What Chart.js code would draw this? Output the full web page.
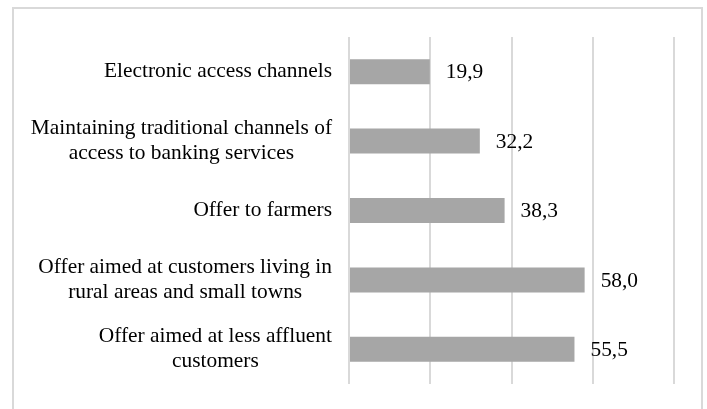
<!DOCTYPE html>
<html>
<head>
<meta charset="utf-8">
<title>Bank offer</title>
<script src="https://cdn.jsdelivr.net/npm/chart.js@4.4.1/dist/chart.umd.min.js"></script>
<style>
  html, body { margin: 0; padding: 0; background: #fff; }
  #wrap { position: relative; width: 707px; height: 409px; }
</style>
</head>
<body>
<div id="wrap"><canvas id="chart" width="707" height="409"></canvas></div>
<script>
const categories = [
  ["Electronic access channels"],
  ["Maintaining traditional channels of", "access to banking services"],
  ["Offer to farmers"],
  ["Offer aimed at customers living in", "rural areas and small towns"],
  ["Offer aimed at less affluent", "customers"]
];
const values = [19.9, 32.2, 38.3, 58.0, 55.5];
const axisTicks = [0, 20, 40, 60, 80];

const FONT = '21.4px "Liberation Serif", "Times New Roman", serif';

// frame around the whole chart
const framePlugin = {
  id: "frame",
  beforeDraw(chart) {
    const ctx = chart.ctx;
    ctx.save();
    ctx.fillStyle = "#fff";
    ctx.fillRect(0, 0, chart.width, chart.height);
    ctx.strokeStyle = "#d9d9d9";
    ctx.lineWidth = 2;
    ctx.strokeRect(13, 8, 689, 420);
    ctx.restore();
  }
};

// category names (block right aligned, lines centred) and value labels
const labelsPlugin = {
  id: "labels",
  afterDatasetsDraw(chart) {
    const ctx = chart.ctx;
    const yScale = chart.scales.y;
    const left = chart.chartArea.left;
    const lineH = 25;
    ctx.save();
    ctx.font = FONT;
    ctx.fillStyle = "#000";
    ctx.textBaseline = "middle";
    ctx.textAlign = "center";
    categories.forEach((lines, i) => {
      const yc = yScale.getPixelForValue(i);
      const widest = Math.max(...lines.map(l => ctx.measureText(l).width));
      const cx = left - 17 - widest / 2;
      lines.forEach((line, j) => {
        const y = yc + (j - (lines.length - 1) / 2) * lineH;
        ctx.fillText(line, cx, y);
      });
    });
    ctx.textAlign = "left";
    chart.getDatasetMeta(0).data.forEach((bar, i) => {
      const txt = values[i].toFixed(1).replace(".", ",");
      ctx.fillText(txt, bar.x + 16, bar.y + 1);
    });
    ctx.restore();
  }
};

new Chart(document.getElementById("chart"), {
  type: "bar",
  data: {
    labels: categories,
    datasets: [{
      data: values,
      backgroundColor: "#a6a6a6",
      borderWidth: 0,
      barPercentage: 0.36,
      categoryPercentage: 1.0
    }]
  },
  options: {
    indexAxis: "y",
    responsive: false,
    animation: false,
    events: [],
    layout: { padding: { left: 349, right: 33, top: 37, bottom: 25 } },
    plugins: {
      legend: { display: false },
      tooltip: { enabled: false }
    },
    scales: {
      x: {
        min: axisTicks[0],
        max: axisTicks[axisTicks.length - 1],
        afterBuildTicks: scale => { scale.ticks = axisTicks.map(v => ({ value: v })); },
        ticks: { display: false },
        grid: { color: "#d9d9d9", lineWidth: 2, drawTicks: false },
        border: { display: false }
      },
      y: { display: false }
    }
  },
  plugins: [framePlugin, labelsPlugin]
});
</script>
</body>
</html>
